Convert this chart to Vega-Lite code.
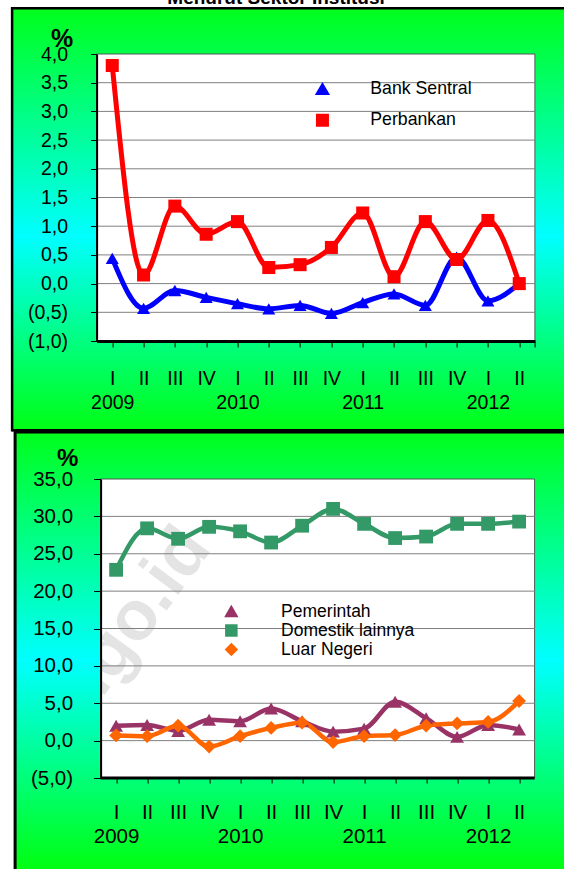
{
  "$schema": "https://vega.github.io/schema/vega-lite/v6.json",
  "autosize": {"type": "pad"},
  "padding": {"left": 10.25, "top": -12, "right": 0, "bottom": 0},
  "title": {"text": "Menurut Sektor Institusi", "fontSize": 19, "fontWeight": "bold", "font": "Liberation Sans", "color": "black", "anchor": "middle", "offset": -16, "dx": -12, "baseline": "alphabetic"},
  "center": true,
  "bounds": "flush",
  "spacing": 138,
  "resolve": {"scale": {"color": "independent", "shape": "independent", "x": "independent", "y": "independent"}, "legend": {"color": "independent", "shape": "independent"}},
  "config": {
    "font": "Liberation Sans",
    "view": {"stroke": null},
    "axis": {"grid": false, "domainColor": "black", "labelColor": "black", "tickColor": "black", "titleColor": "black", "labelFont": "Liberation Sans", "labelOverlap": false, "labelFlush": false, "labelBound": false},
    "legend": {"zindex": 3}
  },
  "datasets": {
    "top": [
      {"i": 1, "s": "Bank Sentral", "v": 0.44}, {"i": 2, "s": "Bank Sentral", "v": -0.43}, {"i": 3, "s": "Bank Sentral", "v": -0.12}, {"i": 4, "s": "Bank Sentral", "v": -0.24},
      {"i": 5, "s": "Bank Sentral", "v": -0.35}, {"i": 6, "s": "Bank Sentral", "v": -0.44}, {"i": 7, "s": "Bank Sentral", "v": -0.38}, {"i": 8, "s": "Bank Sentral", "v": -0.52},
      {"i": 9, "s": "Bank Sentral", "v": -0.33}, {"i": 10, "s": "Bank Sentral", "v": -0.18}, {"i": 11, "s": "Bank Sentral", "v": -0.38}, {"i": 12, "s": "Bank Sentral", "v": 0.46},
      {"i": 13, "s": "Bank Sentral", "v": -0.30}, {"i": 14, "s": "Bank Sentral", "v": 0.0},
      {"i": 1, "s": "Perbankan", "v": 3.80}, {"i": 2, "s": "Perbankan", "v": 0.15}, {"i": 3, "s": "Perbankan", "v": 1.35}, {"i": 4, "s": "Perbankan", "v": 0.86},
      {"i": 5, "s": "Perbankan", "v": 1.08}, {"i": 6, "s": "Perbankan", "v": 0.28}, {"i": 7, "s": "Perbankan", "v": 0.33}, {"i": 8, "s": "Perbankan", "v": 0.63},
      {"i": 9, "s": "Perbankan", "v": 1.23}, {"i": 10, "s": "Perbankan", "v": 0.12}, {"i": 11, "s": "Perbankan", "v": 1.08}, {"i": 12, "s": "Perbankan", "v": 0.42},
      {"i": 13, "s": "Perbankan", "v": 1.10}, {"i": 14, "s": "Perbankan", "v": 0.0}
    ],
    "bottom": [
      {"i": 1, "s": "Pemerintah", "v": 2.0}, {"i": 2, "s": "Pemerintah", "v": 2.1}, {"i": 3, "s": "Pemerintah", "v": 1.3}, {"i": 4, "s": "Pemerintah", "v": 2.8},
      {"i": 5, "s": "Pemerintah", "v": 2.6}, {"i": 6, "s": "Pemerintah", "v": 4.3}, {"i": 7, "s": "Pemerintah", "v": 2.6}, {"i": 8, "s": "Pemerintah", "v": 1.2},
      {"i": 9, "s": "Pemerintah", "v": 1.6}, {"i": 10, "s": "Pemerintah", "v": 5.2}, {"i": 11, "s": "Pemerintah", "v": 3.0}, {"i": 12, "s": "Pemerintah", "v": 0.5},
      {"i": 13, "s": "Pemerintah", "v": 2.1}, {"i": 14, "s": "Pemerintah", "v": 1.5},
      {"i": 1, "s": "Domestik lainnya", "v": 22.85}, {"i": 2, "s": "Domestik lainnya", "v": 28.4}, {"i": 3, "s": "Domestik lainnya", "v": 27.0}, {"i": 4, "s": "Domestik lainnya", "v": 28.6},
      {"i": 5, "s": "Domestik lainnya", "v": 28.0}, {"i": 6, "s": "Domestik lainnya", "v": 26.5}, {"i": 7, "s": "Domestik lainnya", "v": 28.75}, {"i": 8, "s": "Domestik lainnya", "v": 31.0},
      {"i": 9, "s": "Domestik lainnya", "v": 29.0}, {"i": 10, "s": "Domestik lainnya", "v": 27.1}, {"i": 11, "s": "Domestik lainnya", "v": 27.3}, {"i": 12, "s": "Domestik lainnya", "v": 29.0},
      {"i": 13, "s": "Domestik lainnya", "v": 29.0}, {"i": 14, "s": "Domestik lainnya", "v": 29.3},
      {"i": 1, "s": "Luar Negeri", "v": 0.7}, {"i": 2, "s": "Luar Negeri", "v": 0.6}, {"i": 3, "s": "Luar Negeri", "v": 2.0}, {"i": 4, "s": "Luar Negeri", "v": -0.8},
      {"i": 5, "s": "Luar Negeri", "v": 0.6}, {"i": 6, "s": "Luar Negeri", "v": 1.7}, {"i": 7, "s": "Luar Negeri", "v": 2.4}, {"i": 8, "s": "Luar Negeri", "v": -0.2},
      {"i": 9, "s": "Luar Negeri", "v": 0.6}, {"i": 10, "s": "Luar Negeri", "v": 0.75}, {"i": 11, "s": "Luar Negeri", "v": 2.0}, {"i": 12, "s": "Luar Negeri", "v": 2.3},
      {"i": 13, "s": "Luar Negeri", "v": 2.5}, {"i": 14, "s": "Luar Negeri", "v": 5.3}
    ],
    "gridTop": [{"g": -0.5}, {"g": 0}, {"g": 0.5}, {"g": 1}, {"g": 1.5}, {"g": 2}, {"g": 2.5}, {"g": 3}, {"g": 3.5}],
    "gridBottom": [{"g": 0}, {"g": 5}, {"g": 10}, {"g": 15}, {"g": 20}, {"g": 25}, {"g": 30}],
    "one": [{}]
  },
  "vconcat": [
    {
      "width": 438.3,
      "height": 287,
      "layer": [
        {
          "data": {"name": "one"},
          "mark": {"type": "rect", "clip": false,
            "fill": {"gradient": "linear", "x1": 0, "y1": 0, "x2": 0, "y2": 1, "stops": [{"offset": 0, "color": "#00ff1c"}, {"offset": 0.54, "color": "#00ffff"}, {"offset": 1, "color": "#00ff14"}]}},
          "encoding": {
            "x": {"datum": -2.199, "type": "quantitative", "scale": {"domain": [0.5, 14.5], "nice": false, "zero": false}},
            "x2": {"datum": 15.449},
            "y": {"datum": 4.796, "type": "quantitative", "scale": {"domain": [-1, 4], "nice": false, "zero": false}},
            "y2": {"datum": -2.556}
          }
        },
        {
          "data": {"name": "one"},
          "mark": {"type": "rule", "stroke": "black", "strokeWidth": 2.5, "strokeCap": "square", "clip": false},
          "encoding": {"x": {"datum": -2.199, "type": "quantitative"}, "y": {"datum": 4.796, "type": "quantitative"}, "y2": {"datum": -2.556}}
        },
        {
          "data": {"name": "one"},
          "mark": {"type": "rule", "stroke": "black", "strokeWidth": 2.5, "clip": false},
          "encoding": {"y": {"datum": 4.796, "type": "quantitative"}, "x": {"datum": -2.199, "type": "quantitative"}, "x2": {"datum": 15.449}}
        },
        {
          "data": {"name": "one"},
          "mark": {"type": "rule", "stroke": "black", "strokeWidth": 2.5, "clip": false},
          "encoding": {"y": {"datum": -2.556, "type": "quantitative"}, "x": {"datum": -2.199, "type": "quantitative"}, "x2": {"datum": 15.449}}
        },
        {
          "data": {"name": "one"},
          "mark": {"type": "rect", "fill": "white", "stroke": "#555555", "strokeWidth": 1},
          "encoding": {"x": {"datum": 0.5, "type": "quantitative"}, "x2": {"datum": 14.5}, "y": {"datum": 4, "type": "quantitative"}, "y2": {"datum": -1}}
        },
        {
          "data": {"name": "gridTop"},
          "mark": {"type": "rule", "stroke": "#808080", "strokeWidth": 1},
          "encoding": {"y": {"field": "g", "type": "quantitative"}, "x": {"datum": 0.5, "type": "quantitative"}, "x2": {"datum": 14.5}}
        },
        {
          "data": {"name": "top"},
          "mark": {"type": "line", "interpolate": "monotone", "strokeWidth": 5},
          "encoding": {
            "x": {"field": "i", "type": "quantitative",
              "axis": {"title": null, "zindex": 1, "tickCount": 100, "labelOverlap": false, "domain": true, "domainWidth": 3, "values": [1, 2, 3, 4, 5, 6, 7, 8, 9, 10, 11, 12, 13, 14, 14.5], "tickSize": 6, "tickWidth": 1, "labelFontSize": 19.5, "labelBaseline": "top", "labelLineHeight": 24, "labelPadding": 22,
                "labelExpr": "datum.value > 14.2 ? '' : ((datum.value - 1) % 4 == 0 ? ['I', '' + (2009 + floor((datum.value - 1) / 4))] : ['I', 'II', 'III', 'IV'][(datum.value - 1) % 4])"}},
            "y": {"field": "v", "type": "quantitative",
              "axis": {"title": "%", "zindex": 1, "tickCount": 100, "labelOverlap": false, "domain": true, "domainWidth": 2, "titleAngle": 0, "titleFontSize": 25, "titleFontWeight": "bold", "titleAlign": "center", "titleBaseline": "alphabetic", "titleX": -35, "titleY": -7.7, "values": [-1, -0.5, 0, 0.5, 1, 1.5, 2, 2.5, 3, 3.5, 4], "tickSize": 6, "tickWidth": 1, "labelFontSize": 19.5, "labelPadding": 23,
                "labelExpr": "datum.value < 0 ? '(' + replace(format(-datum.value, '.1f'), '.', ',') + ')' : replace(format(datum.value, '.1f'), '.', ',')"}},
            "color": {"field": "s", "type": "nominal", "scale": {"domain": ["Bank Sentral", "Perbankan"], "range": ["#0000ff", "#ff0000"]}}
          }
        },
        {
          "data": {"name": "top"},
          "mark": {"type": "point", "filled": true, "opacity": 1, "size": 170},
          "encoding": {
            "x": {"field": "i", "type": "quantitative"},
            "y": {"field": "v", "type": "quantitative"},
            "color": {"field": "s", "type": "nominal", "scale": {"domain": ["Bank Sentral", "Perbankan"], "range": ["#0000ff", "#ff0000"]},
              "legend": {"title": null, "orient": "none", "legendX": 217, "legendY": 26.4, "padding": 0, "symbolType": "M-1.3,0H9.3", "symbolSize": 100, "symbolStrokeWidth": 3, "labelFontSize": 17.7, "labelFont": "Liberation Sans", "labelColor": "black", "labelOffset": 39, "rowPadding": 8.1,
                "encode": {"symbols": {
                  "shape": {"condition": {"test": "datum.value === 'Bank Sentral'", "value": "M-1.3,0H9.3M4,-0.9L4.95,0.75L3.05,0.75Z"}, "value": "M-1.3,0H9.3M3.2,-0.8H4.8V0.8H3.2Z"},
                  "fill": {"condition": {"test": "datum.value === 'Bank Sentral'", "value": "#0000ff"}, "value": "#ff0000"},
                  "stroke": {"condition": {"test": "datum.value === 'Bank Sentral'", "value": "#0000ff"}, "value": "#ff0000"},
                  "strokeWidth": {"value": 3}, "opacity": {"value": 1}, "fillOpacity": {"value": 1}, "strokeOpacity": {"value": 1}}}}},
            "shape": {"field": "s", "type": "nominal", "scale": {"domain": ["Bank Sentral", "Perbankan"], "range": ["triangle-up", "square"]}, "legend": null}
          }
        }
      ]
    },
    {
      "width": 430.3,
      "height": 299,
      "layer": [
        {
          "data": {"name": "one"},
          "mark": {"type": "rect", "clip": false,
            "fill": {"gradient": "linear", "x1": 0, "y1": 0, "x2": 0, "y2": 1, "stops": [{"offset": 0, "color": "#00ff1c"}, {"offset": 0.52, "color": "#00ffff"}, {"offset": 1, "color": "#00ff10"}]}},
          "encoding": {
            "x": {"datum": -2.258, "type": "quantitative", "scale": {"domain": [0.5, 14.3806], "nice": false, "zero": false}},
            "x2": {"datum": 15.468},
            "y": {"datum": 41.247, "type": "quantitative", "scale": {"domain": [-5, 35], "nice": false, "zero": false}},
            "y2": {"datum": -17.348}
          }
        },
        {
          "data": {"name": "one"},
          "mark": {"type": "rule", "stroke": "black", "strokeWidth": 3, "strokeCap": "square", "clip": false},
          "encoding": {"x": {"datum": -2.258, "type": "quantitative"}, "y": {"datum": 41.247, "type": "quantitative"}, "y2": {"datum": -17.1}}
        },
        {
          "data": {"name": "one"},
          "mark": {"type": "rule", "stroke": "black", "strokeWidth": 2.5, "clip": false},
          "encoding": {"y": {"datum": 41.247, "type": "quantitative"}, "x": {"datum": -2.258, "type": "quantitative"}, "x2": {"datum": 15.468}}
        },
        {
          "data": {"name": "one"},
          "mark": {"type": "rect", "fill": "white", "stroke": "#555555", "strokeWidth": 1},
          "encoding": {"x": {"datum": 0.5, "type": "quantitative"}, "x2": {"datum": 14.5}, "y": {"datum": 35, "type": "quantitative"}, "y2": {"datum": -5}}
        },
        {
          "data": {"name": "one"},
          "mark": {"type": "text", "text": "bps.go.id", "clip": true, "angle": -53.6, "fontSize": 70, "fontWeight": "bold", "font": "Liberation Sans", "fill": "#c4c4c4", "opacity": 0.45, "align": "center", "baseline": "middle"},
          "encoding": {"x": {"datum": 0.587, "type": "quantitative"}, "y": {"datum": 10.61, "type": "quantitative"}}
        },
        {
          "data": {"name": "gridBottom"},
          "mark": {"type": "rule", "stroke": "#808080", "strokeWidth": 1},
          "encoding": {"y": {"field": "g", "type": "quantitative"}, "x": {"datum": 0.5, "type": "quantitative"}, "x2": {"datum": 14.5}}
        },
        {
          "data": {"name": "one"},
          "mark": {"type": "rule", "stroke": "black", "strokeWidth": 3},
          "encoding": {"y": {"datum": -5, "type": "quantitative"}, "x": {"datum": 0.5, "type": "quantitative"}, "x2": {"datum": 14.5}}
        },
        {
          "data": {"name": "bottom"},
          "mark": {"type": "line", "interpolate": "monotone", "strokeWidth": 4.5},
          "encoding": {
            "x": {"field": "i", "type": "quantitative",
              "axis": {"title": null, "zindex": 1, "tickCount": 100, "labelOverlap": false, "domain": false, "values": [1, 2, 3, 4, 5, 6, 7, 8, 9, 10, 11, 12, 13, 14], "tickSize": 5, "tickWidth": 1, "labelFontSize": 20.5, "labelBaseline": "top", "labelLineHeight": 24, "labelPadding": 19.8,
                "labelExpr": "datum.value > 14.2 ? '' : ((datum.value - 1) % 4 == 0 ? ['I', '' + (2009 + floor((datum.value - 1) / 4))] : ['I', 'II', 'III', 'IV'][(datum.value - 1) % 4])"}},
            "y": {"field": "v", "type": "quantitative",
              "axis": {"title": "%", "zindex": 1, "tickCount": 100, "labelOverlap": false, "domain": true, "domainWidth": 2, "titleAngle": 0, "titleFontSize": 24, "titleFontWeight": "bold", "titleAlign": "center", "titleBaseline": "alphabetic", "titleX": -33.5, "titleY": -13.7, "values": [-5, 0, 5, 10, 15, 20, 25, 30, 35], "tickSize": 7, "tickWidth": 1, "labelFontSize": 20.5, "labelPadding": 21,
                "labelExpr": "datum.value < 0 ? '(' + replace(format(-datum.value, '.1f'), '.', ',') + ')' : replace(format(datum.value, '.1f'), '.', ',')"}},
            "color": {"field": "s", "type": "nominal", "sort": null, "scale": {"domain": ["Pemerintah", "Domestik lainnya", "Luar Negeri"], "range": ["#993366", "#339966", "#ff6600"]}}
          }
        },
        {
          "data": {"name": "bottom"},
          "mark": {"type": "point", "filled": true, "opacity": 1, "size": 190},
          "encoding": {
            "x": {"field": "i", "type": "quantitative"},
            "y": {"field": "v", "type": "quantitative"},
            "color": {"field": "s", "type": "nominal", "sort": null, "scale": {"domain": ["Pemerintah", "Domestik lainnya", "Luar Negeri"], "range": ["#993366", "#339966", "#ff6600"]},
              "legend": {"title": null, "orient": "none", "legendX": 122, "legendY": 123.8, "padding": 0, "symbolType": "M-1.3,0H9.3", "symbolSize": 100, "symbolStrokeWidth": 2.5, "labelFontSize": 17.5, "labelFont": "Liberation Sans", "labelColor": "black", "labelOffset": 41, "rowPadding": -4.5,
                "encode": {"symbols": {
                  "shape": {"condition": [{"test": "datum.value === 'Pemerintah'", "value": "M-1.3,0H9.3M4,-0.9L4.9,0.7L3.1,0.7Z"}, {"test": "datum.value === 'Domestik lainnya'", "value": "M-1.3,0H9.3M3.15,-0.85H4.85V0.85H3.15Z"}], "value": "M-1.3,0H9.3M4,-1.1L5.1,0L4,1.1L2.9,0Z"},
                  "fill": {"condition": [{"test": "datum.value === 'Pemerintah'", "value": "#993366"}, {"test": "datum.value === 'Domestik lainnya'", "value": "#339966"}], "value": "#ff6600"},
                  "stroke": {"condition": [{"test": "datum.value === 'Pemerintah'", "value": "#993366"}, {"test": "datum.value === 'Domestik lainnya'", "value": "#339966"}], "value": "#ff6600"},
                  "strokeWidth": {"value": 2.5}, "opacity": {"value": 1}, "fillOpacity": {"value": 1}, "strokeOpacity": {"value": 1}}}}},
            "shape": {"field": "s", "type": "nominal", "sort": null, "scale": {"domain": ["Pemerintah", "Domestik lainnya", "Luar Negeri"], "range": ["triangle-up", "square", "diamond"]}, "legend": null}
          }
        }
      ]
    }
  ]
}
